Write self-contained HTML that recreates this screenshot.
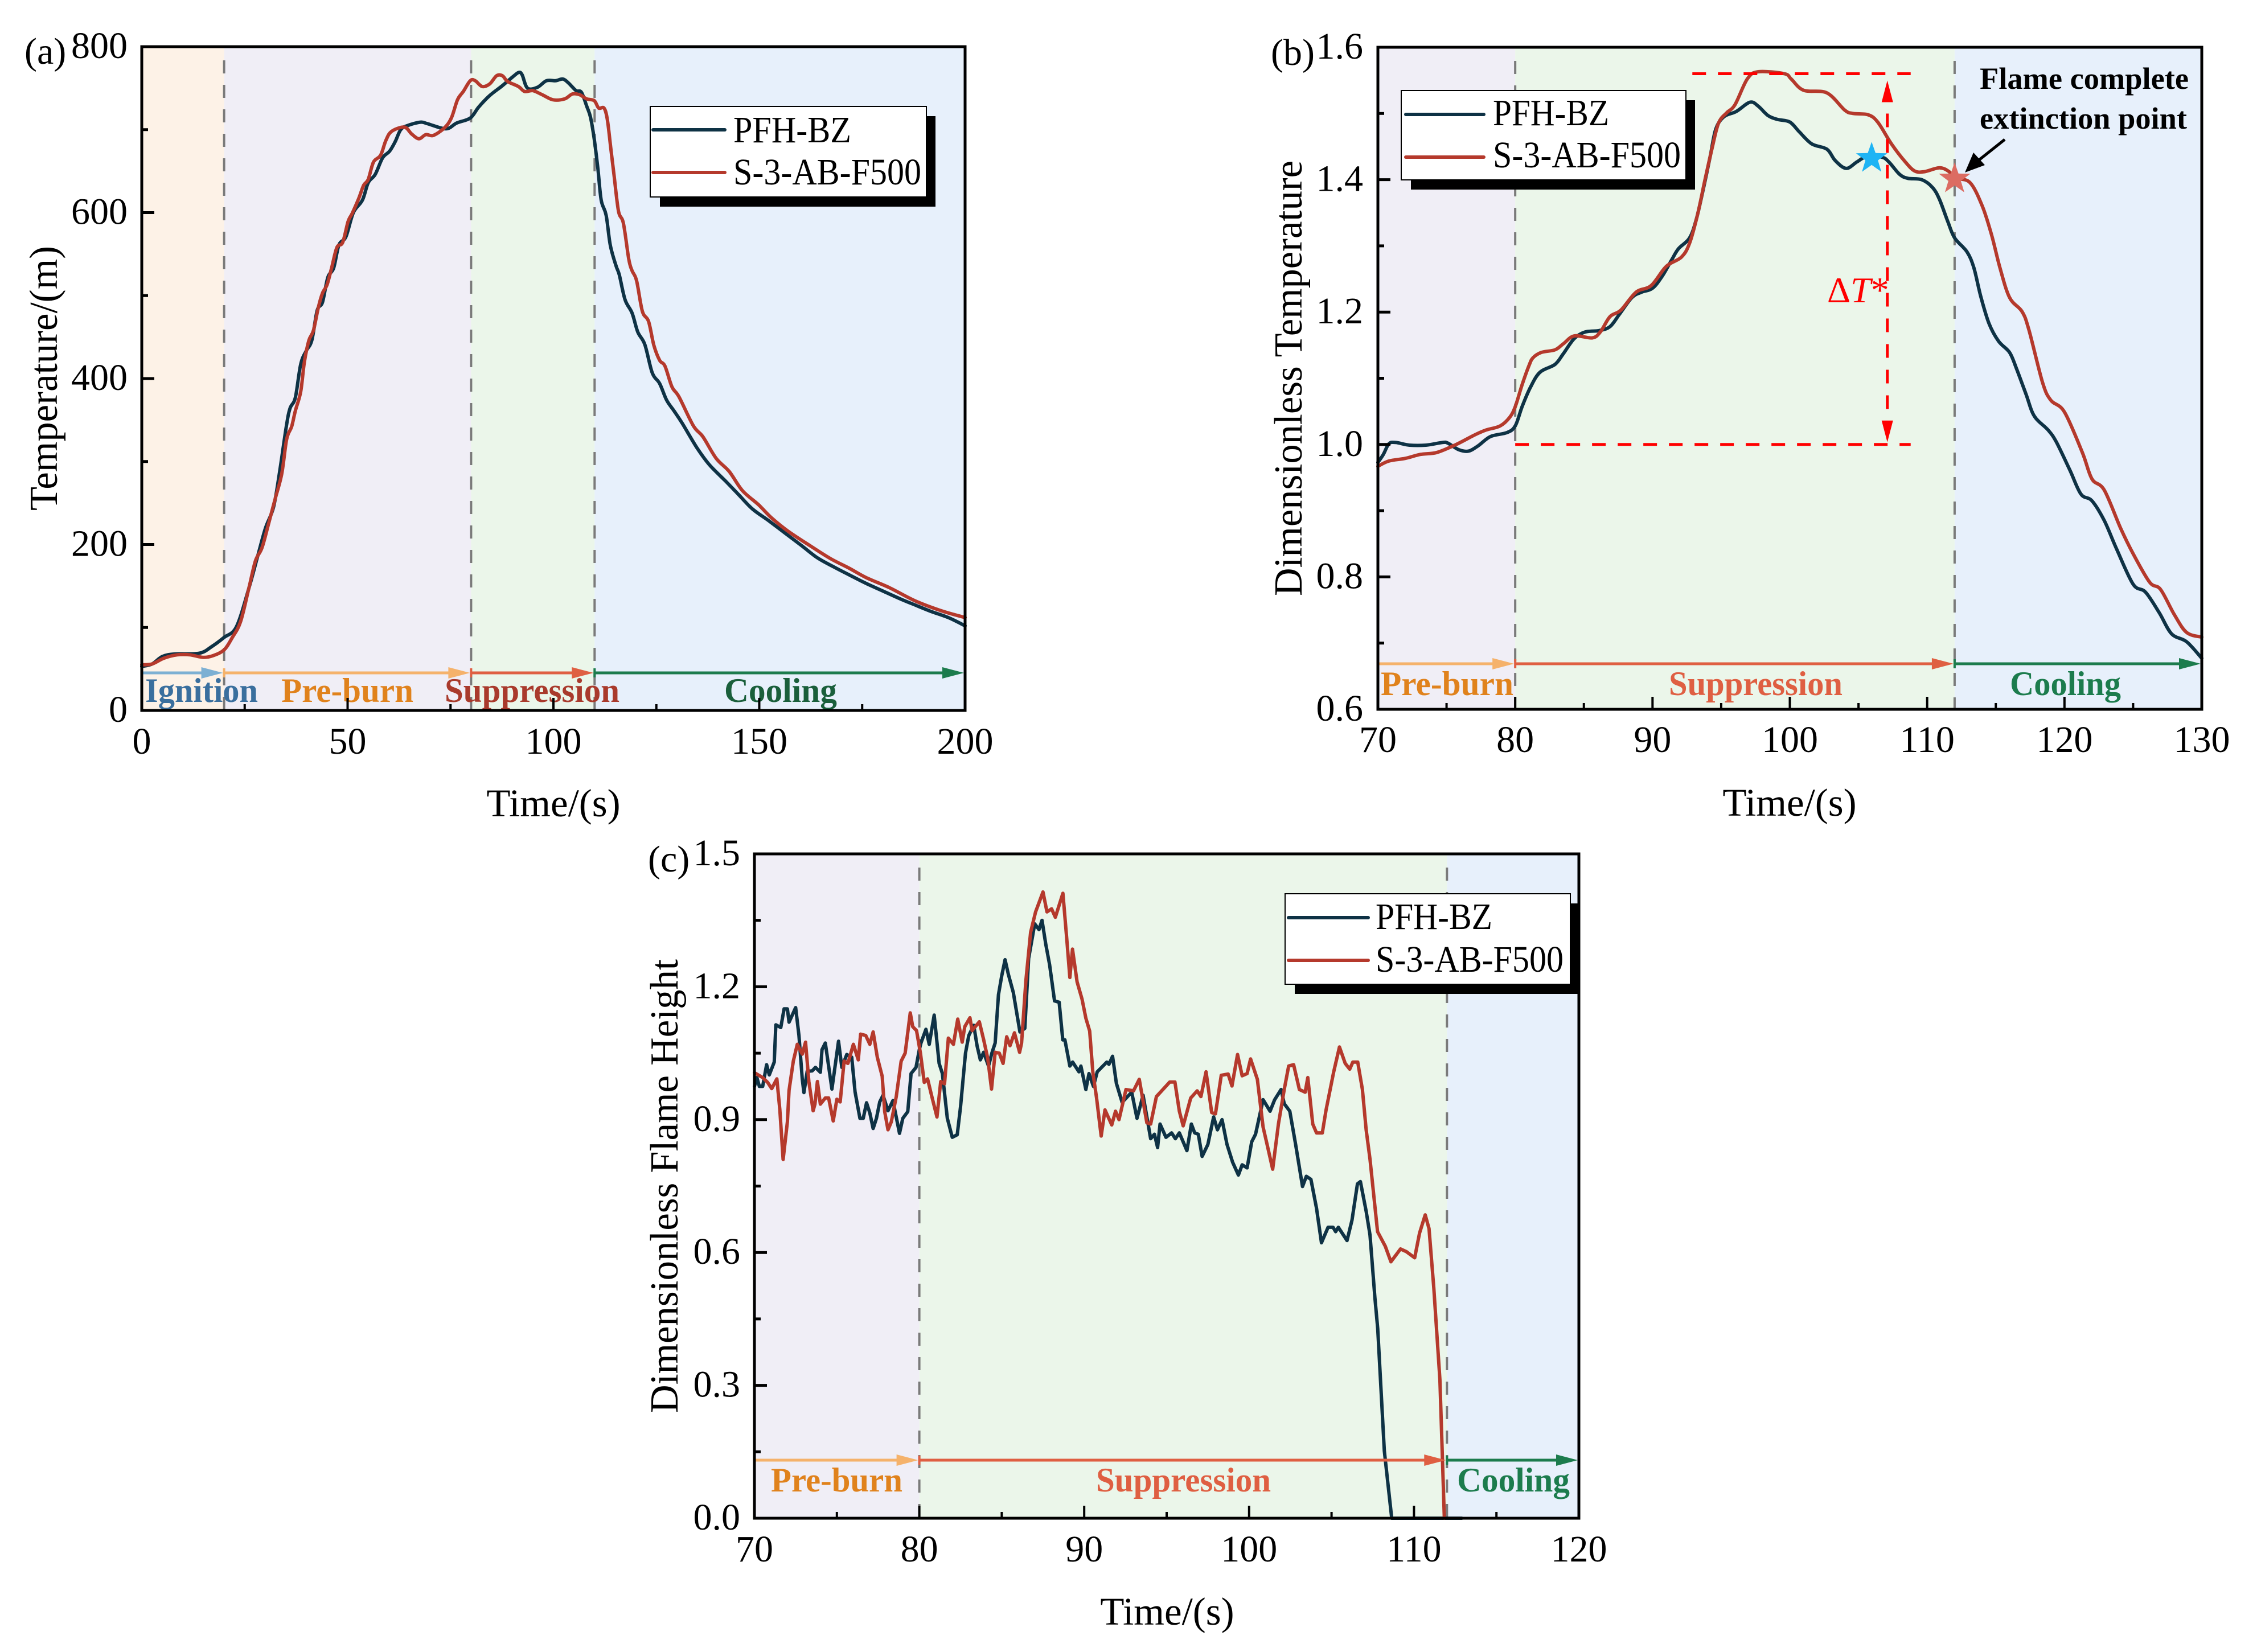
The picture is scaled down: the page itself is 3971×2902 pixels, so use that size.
<!DOCTYPE html>
<html lang="en">
<head>
<meta charset="utf-8">
<title>Temperature and flame height charts</title>
<style>
html,body{margin:0;padding:0;background:#fff;}
svg{display:block;}
text{font-family:"Liberation Serif","Times New Roman",serif;fill:#000;}
</style>
</head>
<body>
<svg id="figure" xmlns="http://www.w3.org/2000/svg" width="3971" height="2902" viewBox="0 0 3971 2902"></svg>
<script>
/* ---------- panel (a) data ---------- */
const aPfhTime = [0,2.5,5,8,14,17,20,23,26,28,30,32,33.5,35.1,36,37.3,38.6,39.9,41.3,42.6,43.9,45.2,46.6,47.9,49.6,51.4,53.6,55,56.7,58.5,60.2,61.6,62.9,64.6,67.7,69.5,73.9,76.5,79.8,81.8,84.5,87.6,90.2,91.6,92.4,93.7,96.1,98.3,100.5,102.3,103.7,105.5,106.8,108.1,109,109.9,110.8,111.6,112.8,113.8,115.2,116,117.4,119.1,120.5,122.2,124,125.8,127.5,129.3,131.3,134.8,137.9,141.9,145,148.3,152.2,156.2,160.2,164.1,168.1,172,176,180,184,187.9,191.9,195.9,200];
const aPfhTemp = [53,56,65,68,69,77,88,101,147,183,219,245,288,342,364,377,417,433,446,482,492,522,533,561,571,600,615,636,646,666,674,686,700,705,709,707,701,708,714,727,741,753,764,769,766,750,751,759,759,761,756,747,745,728,715,689,653,615,597,561,536,525,495,479,456,441,407,394,374,361,346,317,296,276,260,243,229,214,199,184,173,163,153,144,135,127,119,112,102];
const aRedTime = [0,2.5,5.4,8.6,11.7,14.9,17.3,20,22,24,26,27.6,29.2,30.8,32.4,34,35.2,36.4,37.3,38.6,39.5,40.6,41.7,42.9,43.9,45,46.1,47.4,48.8,50.1,51.1,52.7,53.9,55,56.3,58,59.3,60.7,63.8,65.5,67.3,69,70.8,73.5,75.2,76.7,78.1,79.8,81,82.7,84.5,86.2,87.6,88.9,91.5,93,95,97.3,99.9,102.7,104.6,106.4,108.1,109.9,111,112.3,113.1,113.9,114.7,115.8,117,118.3,119.1,120.2,121.6,123.1,124.4,125.8,127.1,128.8,130.5,134,136.3,139.5,142.7,145.9,149.8,153,157,162.5,167.3,172,176,181.6,187.9,194.3,200];
const aRedTemp = [55,56,63,67,67,64,66,73,88,107,147,180,196,225,255,285,327,342,361,384,420,446,458,486,503,513,533,558,564,589,599,617,633,640,661,669,687,698,703,695,689,694,693,702,714,736,746,759,759,752,755,765,765,758,752,746,747,742,736,737,743,742,737,735,726,726,712,679,646,602,587,544,530,518,481,469,440,422,415,390,378,343,330,304,288,265,248,232,216,198,183,171,160,148,132,120,112];

/* ---------- panel (b) data ---------- */
const bPfhTime = [70,70.4,70.8,71.3,72.3,73.5,74.7,75.1,75.9,76.6,77.3,78.2,79.4,80,80.5,81.1,81.8,82.9,83.5,84.3,85.1,86.1,86.9,87.6,88.5,89.2,90,90.7,91.4,91.9,92.7,93.2,93.7,94.2,94.6,95.2,96.1,97.1,97.7,98.4,99.1,100,100.7,101.6,102.7,103.3,104.1,104.9,105.6,106.7,107.2,108,108.6,109.6,110.4,110.9,111.5,112,112.9,113.4,113.9,114.5,115.2,116,116.5,117.2,117.8,118.8,119.4,120.4,121.2,122,122.9,123.8,125,125.9,126.9,127.8,128.9,130];
const bPfhTemp = [0.973,0.985,1.001,1.003,0.999,0.999,1.003,1.002,0.992,0.99,0.998,1.012,1.018,1.028,1.057,1.086,1.109,1.121,1.137,1.16,1.17,1.172,1.178,1.197,1.222,1.23,1.236,1.254,1.279,1.296,1.312,1.341,1.386,1.435,1.476,1.495,1.503,1.517,1.511,1.497,1.491,1.487,1.472,1.454,1.446,1.429,1.417,1.427,1.435,1.434,1.427,1.408,1.402,1.4,1.388,1.37,1.337,1.312,1.291,1.267,1.224,1.183,1.156,1.139,1.115,1.076,1.043,1.022,1.004,0.961,0.925,0.915,0.885,0.842,0.789,0.777,0.746,0.714,0.702,0.677];
const bRedTime = [70,70.8,72,73.1,74.3,75.7,77.1,77.9,78.9,79.6,80,80.5,81,81.3,81.9,82.9,83.5,84.3,85.6,86.2,86.9,87.7,88.8,89.9,91,92.1,92.7,93.3,93.8,94.3,94.8,95.4,96,96.9,97.7,99.6,100.1,101,102.7,104,104.6,105.7,106.4,107.4,108.4,109.1,109.8,110.9,111.6,112,113.1,114,114.7,115.3,116,116.9,117.4,118.4,119,120,121.3,122,122.9,124.1,125,126.2,127,128,128.9,130];
const bRedTemp = [0.967,0.975,0.979,0.985,0.988,1,1.015,1.022,1.028,1.041,1.057,1.09,1.119,1.131,1.139,1.143,1.152,1.164,1.161,1.17,1.193,1.203,1.23,1.24,1.269,1.283,1.304,1.349,1.398,1.444,1.485,1.501,1.513,1.552,1.563,1.56,1.552,1.535,1.531,1.505,1.5,1.498,1.487,1.454,1.427,1.413,1.412,1.418,1.412,1.402,1.396,1.361,1.316,1.267,1.222,1.201,1.174,1.094,1.067,1.049,0.988,0.948,0.931,0.873,0.835,0.792,0.781,0.743,0.716,0.709];
const bBlueStar = [106, 1.433];
const bRedStar = [112, 1.402];
const bDeltaLevels = [1.0, 1.56];

/* ---------- panel (c) data ---------- */
const cPfhTime = [70,70.15,70.3,70.5,70.74,70.9,71.2,71.3,71.6,71.8,72,72.1,72.5,72.7,72.9,73,73.2,73.5,73.7,74,74.1,74.3,74.7,75.1,75.3,75.6,75.9,76.1,76.4,76.6,76.8,77,77.2,77.4,77.6,77.8,78.1,78.4,78.8,79,79.3,79.5,79.8,80,80.1,80.4,80.6,80.9,81.2,81.4,81.7,82,82.3,82.5,82.8,83,83.3,83.5,83.7,83.9,84.2,84.4,84.6,84.8,85,85.2,85.4,85.7,86.1,86.4,86.63,87,87.26,87.44,87.67,87.9,88.2,88.48,88.7,88.83,89.13,89.3,89.68,89.8,90.1,90.29,90.56,90.79,91.37,91.5,91.72,91.95,92.3,92.88,93.2,93.57,94.03,94.26,94.45,94.6,94.96,95.3,95.53,95.77,96.23,96.5,96.7,96.92,97.15,97.5,97.85,98.08,98.36,98.66,99,99.35,99.58,99.88,100.16,100.39,100.85,101.27,101.55,101.94,102.13,102.47,102.82,103.24,103.47,103.75,104.09,104.39,104.79,105.09,105.25,105.41,105.94,106.24,106.57,106.75,107.1,107.33,107.63,107.8,108.2,108.65,112.9];
const cPfhHeight = [0.975,0.995,0.975,0.975,1.024,1.001,1.03,1.114,1.108,1.15,1.15,1.12,1.153,1.09,0.992,0.961,1.009,1.01,1.018,1.007,1.058,1.073,0.969,1.077,1.018,1.047,1.041,0.963,0.903,0.903,0.938,0.915,0.88,0.903,0.94,0.955,0.92,0.943,0.869,0.903,0.918,1.004,1.018,1.058,1.073,1.104,1.07,1.136,1.027,1.004,0.903,0.86,0.866,0.929,1.05,1.09,1.113,1.067,1.035,1.052,1.021,1.05,1.073,1.182,1.225,1.261,1.228,1.187,1.098,1.106,1.264,1.342,1.329,1.35,1.296,1.25,1.168,1.165,1.08,1.08,1.021,1.03,1.008,1.021,0.968,1.004,0.975,1.008,1.03,1.025,1.043,0.982,0.939,0.962,0.903,0.955,0.857,0.867,0.837,0.89,0.86,0.87,0.857,0.87,0.83,0.89,0.87,0.867,0.817,0.844,0.906,0.877,0.9,0.844,0.804,0.775,0.798,0.791,0.85,0.867,0.945,0.919,0.945,0.968,0.936,0.919,0.844,0.749,0.772,0.765,0.7,0.622,0.657,0.657,0.647,0.657,0.627,0.673,0.755,0.76,0.693,0.64,0.497,0.428,0.152,0,0];
const cRedTime = [70,70.5,70.8,71.05,71.36,71.54,71.74,72,72.1,72.36,72.6,72.9,73.1,73.3,73.56,73.67,73.82,74,74.3,74.5,74.78,75,75.2,75.44,75.67,76,76.3,76.44,76.75,77,77.2,77.45,77.75,77.9,78.1,78.3,78.6,78.9,79.14,79.45,79.6,79.83,80.07,80.3,80.5,80.76,81.07,81.3,81.53,81.76,82.07,82.33,82.6,82.76,83.07,83.2,83.64,83.9,84.15,84.38,84.6,84.85,85.08,85.3,85.5,85.77,86.08,86.2,86.46,86.75,87.05,87.5,87.74,88.02,88.25,88.71,88.94,89.13,89.29,89.57,89.87,90.1,90.33,90.52,90.75,91.03,91.26,91.67,91.9,92.11,92.53,92.99,93.34,93.8,94.03,94.38,95.19,95.5,95.77,96,96.46,96.85,97.08,97.39,97.73,97.96,98.31,98.73,98.96,99.3,99.58,99.88,100.09,100.5,100.85,101.09,101.43,101.78,102.13,102.4,102.7,103.05,103.4,103.56,103.86,104.09,104.44,104.67,105.13,105.48,105.83,106.1,106.29,106.59,106.87,107.1,107.33,107.79,108.26,108.6,109.18,109.53,110.04,110.34,110.68,110.91,111.2,111.57,111.84];
const cRedHeight = [1.006,0.995,0.984,0.97,0.992,0.923,0.81,0.895,0.966,1.032,1.07,1.048,1.075,0.986,0.92,0.935,0.986,0.935,0.949,0.949,0.897,0.946,0.94,1.032,1.027,1.07,1.035,1.093,1.09,1.07,1.098,1.041,0.998,0.918,0.877,0.895,0.952,1.032,1.05,1.141,1.11,1.101,1.05,0.984,0.992,0.952,0.906,0.986,0.981,1.084,1.07,1.127,1.075,1.11,1.13,1.101,1.121,1.081,1.038,0.969,1.052,1.05,1.027,1.087,1.067,1.096,1.052,1.073,1.213,1.323,1.369,1.414,1.369,1.376,1.357,1.411,1.309,1.221,1.285,1.211,1.172,1.129,1.1,1.008,0.949,0.863,0.922,0.888,0.919,0.9,0.968,0.965,0.991,0.893,0.89,0.952,0.985,0.985,0.919,0.886,0.949,0.965,0.952,1.008,0.916,0.913,1,1.003,0.976,1.047,0.999,1.004,1.037,0.991,0.883,0.844,0.788,0.89,0.968,1.021,1.024,0.968,0.962,0.995,0.89,0.87,0.87,0.922,1.008,1.064,1.027,1.014,1.03,1.03,0.968,0.877,0.811,0.647,0.614,0.579,0.608,0.602,0.588,0.644,0.685,0.654,0.52,0.313,0];

/* ---------- ticks and stage data ---------- */
const aXTickLabels = ['0','50','100','150','200'];
const aXTickValues = [0,50,100,150,200];
const aXMinor = [25,75,125,175];
const aYTickLabels = ['0','200','400','600','800'];
const aYTickValues = [0,200,400,600,800];
const aYMinor = [100,300,500,700];
const bXTickLabels = ['70','80','90','100','110','120','130'];
const bXTickValues = [70,80,90,100,110,120,130];
const bXMinor = [75,85,95,105,115,125];
const bYTickLabels = ['0.6','0.8','1.0','1.2','1.4','1.6'];
const bYTickValues = [0.6,0.8,1.0,1.2,1.4,1.6];
const bYMinor = [0.7,0.9,1.1,1.3,1.5];
const cXTickLabels = ['70','80','90','100','110','120'];
const cXTickValues = [70,80,90,100,110,120];
const cXMinor = [75,85,95,105,115];
const cYTickLabels = ['0.0','0.3','0.6','0.9','1.2','1.5'];
const cYTickValues = [0,0.3,0.6,0.9,1.2,1.5];
const cYMinor = [0.15,0.45,0.75,1.05,1.35];
const aStageEdges = [0,20,80,110,200];
const bStageEdges = [70,80,112,130];
const cStageEdges = [70,80,112,120];
const aStageNames = ['Ignition','Pre-burn','Suppression','Cooling'];
const bStageNames = ['Pre-burn','Suppression','Cooling'];
const cStageNames = ['Pre-burn','Suppression','Cooling'];

/* ---------- drawing ---------- */
const NS = 'http://www.w3.org/2000/svg';
const root = document.getElementById('figure');
const DARK = '#0e3245';
const RED = '#b5392c';
const BG = {ignition:'#fdf2e7', preburn:'#f0eef6', suppression:'#ebf6ea', cooling:'#e7f0fb'};

function node(parent, tag, attrs, name){
  const el = document.createElementNS(NS, tag);
  for (const k in attrs) el.setAttribute(k, attrs[k]);
  
  
  parent.appendChild(el);
  return el;
}
function label(parent, str, x, y, size, name, opts){
  const o = opts || {};
  const attrs = {x:x, y:y, 'font-size':size};
  if (o.anchor) attrs['text-anchor'] = o.anchor;
  if (o.fill) attrs.style = 'fill:' + o.fill;
  if (o.bold) attrs['font-weight'] = 'bold';
  if (o.length){ attrs.textLength = o.length; attrs.lengthAdjust = 'spacingAndGlyphs'; }
  if (o.rotate) attrs.transform = 'rotate(-90 ' + x + ' ' + y + ')';
  const el = node(parent, 'text', attrs, name);
  el.textContent = str;
  return el;
}
function smoothPath(px){
  let d = 'M' + px[0][0].toFixed(1) + ' ' + px[0][1].toFixed(1);
  for (let i = 0; i < px.length - 1; i++){
    const p0 = px[Math.max(i-1,0)], p1 = px[i], p2 = px[i+1], p3 = px[Math.min(i+2,px.length-1)];
    const c1 = [p1[0]+(p2[0]-p0[0])/6, p1[1]+(p2[1]-p0[1])/6];
    const c2 = [p2[0]-(p3[0]-p1[0])/6, p2[1]-(p3[1]-p1[1])/6];
    d += 'C' + c1[0].toFixed(1)+' '+c1[1].toFixed(1)+' '+c2[0].toFixed(1)+' '+c2[1].toFixed(1)+' '+p2[0].toFixed(1)+' '+p2[1].toFixed(1);
  }
  return d;
}
function linearPath(px){
  return 'M' + px.map(p => p[0].toFixed(1) + ' ' + p[1].toFixed(1)).join('L');
}
function starPoints(cx, cy, R){
  const pts = [];
  for (let i = 0; i < 10; i++){
    const r = i % 2 ? R * 0.40 : R;
    const a = -Math.PI/2 + i * Math.PI/5;
    pts.push((cx + r*Math.cos(a)).toFixed(1) + ',' + (cy + r*Math.sin(a)).toFixed(1));
  }
  return pts.join(' ');
}

function drawPanel(cfg){
  const g = node(root, 'g', {}, 'panel-' + cfg.id);
  const f = cfg.frame;
  const X = v => f.x0 + (v - cfg.xDomain[0]) / (cfg.xDomain[1] - cfg.xDomain[0]) * (f.x1 - f.x0);
  const Y = v => f.y0 + (v - cfg.yDomain[0]) / (cfg.yDomain[1] - cfg.yDomain[0]) * (f.y1 - f.y0);

  /* stage backgrounds */
  for (let i = 0; i < cfg.edges.length - 1; i++){
    node(g, 'rect', {x:X(cfg.edges[i]), y:f.y1, width:X(cfg.edges[i+1])-X(cfg.edges[i]), height:f.y0-f.y1, fill:cfg.bands[i]}, 'stage-band-' + cfg.stageKeys[i]);
  }
  /* stage boundaries */
  for (let i = 1; i < cfg.edges.length - 1; i++){
    node(g, 'line', {x1:X(cfg.edges[i]), x2:X(cfg.edges[i]), y1:f.y1+24, y2:f.y0, stroke:'#7a7a7a', 'stroke-width':4, 'stroke-dasharray':'23 20'}, 'stage-boundary-line');
  }
  /* series */
  const makePath = cfg.smooth ? smoothPath : linearPath;
  cfg.series.forEach(s => {
    const px = s.x.map((t,i) => [X(t), Y(s.y[i])]);
    node(g, 'path', {d:makePath(px), fill:'none', stroke:s.color, 'stroke-width':6, 'stroke-linejoin':'round', 'stroke-linecap':'round'}, 'series-line-' + s.key);
  });
  if (cfg.extras) cfg.extras(g, X, Y);

  /* stage arrows and names */
  for (let i = 0; i < cfg.edges.length - 1; i++){
    const a = X(cfg.edges[i]), b = X(cfg.edges[i+1]) - 2;
    const ay = cfg.arrowY;
    node(g, 'line', {x1:a, x2:a, y1:ay-8, y2:ay+8, stroke:cfg.arrowColors[i], 'stroke-width':4}, 'stage-arrow-cap');
    node(g, 'line', {x1:a, x2:b-30, y1:ay, y2:ay, stroke:cfg.arrowColors[i], 'stroke-width':5}, 'stage-arrow-shaft');
    node(g, 'polygon', {points:(b-38)+','+(ay-10)+' '+b+','+ay+' '+(b-38)+','+(ay+10), fill:cfg.arrowColors[i]}, 'stage-arrow-head');
    const t = cfg.stageText[i];
    label(g, cfg.names[i], t.x, cfg.stageBaseline, 60, 'stage-label-' + cfg.stageKeys[i], {bold:true, fill:cfg.textColors[i], length:t.w});
  }

  /* axes */
  node(g, 'rect', {x:f.x0, y:f.y1, width:f.x1-f.x0, height:f.y0-f.y1, fill:'none', stroke:'#000', 'stroke-width':5}, 'plot-frame');
  cfg.xTicks.forEach((v,i) => {
    node(g, 'line', {x1:X(v), x2:X(v), y1:f.y0, y2:f.y0-22, stroke:'#000', 'stroke-width':4}, 'x-major-tick');
    label(g, cfg.xLabels[i], X(v), cfg.xLabelY, 66, 'x-tick-label', {anchor:'middle'});
  });
  cfg.xMinor.forEach(v => {
    node(g, 'line', {x1:X(v), x2:X(v), y1:f.y0, y2:f.y0-11, stroke:'#000', 'stroke-width':4}, 'x-minor-tick');
  });
  cfg.yTicks.forEach((v,i) => {
    node(g, 'line', {x1:f.x0, x2:f.x0+22, y1:Y(v), y2:Y(v), stroke:'#000', 'stroke-width':5}, 'y-major-tick');
    label(g, cfg.yLabels[i], cfg.yLabelX, Y(v)+20, 66, 'y-tick-label', {anchor:'end'});
  });
  cfg.yMinor.forEach(v => {
    node(g, 'line', {x1:f.x0, x2:f.x0+11, y1:Y(v), y2:Y(v), stroke:'#000', 'stroke-width':5}, 'y-minor-tick');
  });

  /* titles */
  label(g, 'Time/(s)', cfg.xTitle.x, cfg.xTitle.y, 69, 'x-axis-title', {anchor:'middle'});
  label(g, cfg.yTitle.text, cfg.yTitle.x, cfg.yTitle.y, 70, 'y-axis-title', {rotate:true, length:cfg.yTitle.len});
  label(g, cfg.tag.text, cfg.tag.x, cfg.tag.y, 66, 'panel-tag');

  /* legend */
  const L = cfg.legend;
  const lg = node(g, 'g', {}, 'legend');
  const shadowRight = Math.min(L.x + L.w + 16, f.x1 - 2);
  node(lg, 'rect', {x:L.x+17, y:L.y+17, width:shadowRight-(L.x+17), height:L.h, fill:'#000'}, 'legend-shadow');
  node(lg, 'rect', {x:L.x, y:L.y, width:L.w, height:L.h, fill:'#fff', stroke:'#000', 'stroke-width':2}, 'legend-box');
  cfg.series.forEach((s,i) => {
    node(lg, 'line', {x1:L.lineX0, x2:L.lineX1, y1:L.rowY[i], y2:L.rowY[i], stroke:s.color, 'stroke-width':6, 'stroke-linecap':'round'}, 'legend-swatch-' + s.key);
    label(lg, s.name, L.textX, L.baseY[i], 66, 'legend-entry-' + s.key, {length:L.textW[i]});
  });
}

drawPanel({
  id:'a', smooth:true,
  frame:{x0:249, x1:1695, y0:1248, y1:82},
  xDomain:[0,200], yDomain:[0,800],
  edges:aStageEdges, names:aStageNames,
  stageKeys:['ignition','preburn','suppression','cooling'],
  bands:[BG.ignition,BG.preburn,BG.suppression,BG.cooling],
  arrowColors:['#7db0d3','#f5b26b','#df5f42','#1c7c4d'],
  textColors:['#3a6f9e','#e0821c','#a93a2c','#1a5f3b'],
  arrowY:1182, stageBaseline:1233,
  stageText:[{x:255,w:198},{x:494,w:232},{x:781,w:307},{x:1272,w:198}],
  series:[
    {key:'pfh-bz', name:'PFH-BZ', color:DARK, x:aPfhTime, y:aPfhTemp},
    {key:'s-3-ab-f500', name:'S-3-AB-F500', color:RED, x:aRedTime, y:aRedTemp}
  ],
  xTicks:aXTickValues, xLabels:aXTickLabels, xMinor:aXMinor, xLabelY:1324,
  yTicks:aYTickValues, yLabels:aYTickLabels, yMinor:aYMinor, yLabelX:224,
  xTitle:{x:972,y:1434},
  yTitle:{text:'Temperature/(m)', x:100, y:897, len:465},
  tag:{text:'(a)', x:43, y:112},
  legend:{x:1142,y:187,w:485,h:159,lineX0:1147,lineX1:1273,rowY:[228,303],textX:1288,baseY:[250,324],textW:[207,330]}
});

drawPanel({
  id:'b', smooth:true,
  frame:{x0:2420, x1:3867, y0:1246, y1:83},
  xDomain:[70,130], yDomain:[0.6,1.6],
  edges:bStageEdges, names:bStageNames,
  stageKeys:['preburn','suppression','cooling'],
  bands:[BG.preburn,BG.suppression,BG.cooling],
  arrowColors:['#f5b26b','#df5f42','#1c7c4d'],
  textColors:['#e0821c','#df5f42','#1c7c4d'],
  arrowY:1166, stageBaseline:1221,
  stageText:[{x:2425,w:233},{x:2931,w:305},{x:3530,w:195}],
  series:[
    {key:'pfh-bz', name:'PFH-BZ', color:DARK, x:bPfhTime, y:bPfhTemp},
    {key:'s-3-ab-f500', name:'S-3-AB-F500', color:RED, x:bRedTime, y:bRedTemp}
  ],
  extras:function(g, X, Y){
    const base = Y(bDeltaLevels[0]), peak = Y(bDeltaLevels[1]);
    const ax = X(107.1);
    const dash = {stroke:'#ff0000','stroke-width':5,'stroke-dasharray':'24 21'};
    node(g, 'line', Object.assign({x1:X(92.9),x2:X(108.8),y1:peak,y2:peak}, dash), 'delta-peak-line');
    node(g, 'line', Object.assign({x1:X(80),x2:X(108.8),y1:base,y2:base}, dash), 'delta-base-line');
    node(g, 'line', Object.assign({x1:ax,x2:ax,y1:peak+25,y2:base-25}, dash), 'delta-span-line');
    node(g, 'polygon', {points:ax+','+(peak+12)+' '+(ax+10)+','+(peak+50)+' '+(ax-10)+','+(peak+50), fill:'#ff0000'}, 'delta-arrow-up');
    node(g, 'polygon', {points:ax+','+(base-4)+' '+(ax+10)+','+(base-42)+' '+(ax-10)+','+(base-42), fill:'#ff0000'}, 'delta-arrow-down');
    const dt = label(g, '\u0394', 3209, 531, 64, 'delta-t-label', {fill:'#ff0000'});
    const ts = document.createElementNS(NS, 'tspan');
    ts.setAttribute('font-style', 'italic');
    ts.setAttribute('style', 'fill:#ff0000');
    
    
    ts.textContent = 'T';
    dt.appendChild(ts);
    dt.appendChild(document.createTextNode('*'));
    node(g, 'polygon', {points:starPoints(X(bBlueStar[0])-1, Y(bBlueStar[1])+1, 29), fill:'#1eb4f4'}, 'blue-star-marker');
    node(g, 'polygon', {points:starPoints(X(bRedStar[0]), Y(bRedStar[1])+1, 29), fill:'#dc6c62'}, 'extinction-star-marker');
    label(g, 'Flame complete', 3477, 156, 54, 'flame-extinction-note-line-1', {bold:true, length:367});
    label(g, 'extinction point', 3477, 226, 54, 'flame-extinction-note-line-2', {bold:true, length:364});
    node(g, 'line', {x1:3521, y1:245, x2:3472, y2:284, stroke:'#000', 'stroke-width':5}, 'extinction-arrow-shaft');
    node(g, 'polygon', {points:'3451,303 3466,268 3486,290', fill:'#000'}, 'extinction-arrow-head');
  },
  xTicks:bXTickValues, xLabels:bXTickLabels, xMinor:bXMinor, xLabelY:1321,
  yTicks:bYTickValues, yLabels:bYTickLabels, yMinor:bYMinor, yLabelX:2394,
  xTitle:{x:3143,y:1433},
  yTitle:{text:'Dimensionless Temperature', x:2286, y:1047, len:765},
  tag:{text:'(b)', x:2232, y:114},
  legend:{x:2461,y:159,w:500,h:157,lineX0:2469,lineX1:2606,rowY:[201,276],textX:2622,baseY:[220,294],textW:[204,330]}
});

drawPanel({
  id:'c', smooth:false,
  frame:{x0:1325, x1:2773, y0:2667, y1:1500},
  xDomain:[70,120], yDomain:[0,1.5],
  edges:cStageEdges, names:cStageNames,
  stageKeys:['preburn','suppression','cooling'],
  bands:[BG.preburn,BG.suppression,BG.cooling],
  arrowColors:['#f5b26b','#df5f42','#1c7c4d'],
  textColors:['#e0821c','#df5f42','#1c7c4d'],
  arrowY:2565, stageBaseline:2620,
  stageText:[{x:1354,w:231},{x:1925,w:307},{x:2559,w:198}],
  series:[
    {key:'pfh-bz', name:'PFH-BZ', color:DARK, x:cPfhTime, y:cPfhHeight},
    {key:'s-3-ab-f500', name:'S-3-AB-F500', color:RED, x:cRedTime, y:cRedHeight}
  ],
  xTicks:cXTickValues, xLabels:cXTickLabels, xMinor:cXMinor, xLabelY:2743,
  yTicks:cYTickValues, yLabels:cYTickLabels, yMinor:cYMinor, yLabelX:1300,
  xTitle:{x:2050,y:2854},
  yTitle:{text:'Dimensionless Flame Height', x:1190, y:2482, len:797},
  tag:{text:'(c)', x:1138, y:1531},
  legend:{x:2257,y:1570,w:501,h:159,lineX0:2263,lineX1:2403,rowY:[1612,1687],textX:2416,baseY:[1632,1707],textW:[205,330]}
});
</script>
</body>
</html>
